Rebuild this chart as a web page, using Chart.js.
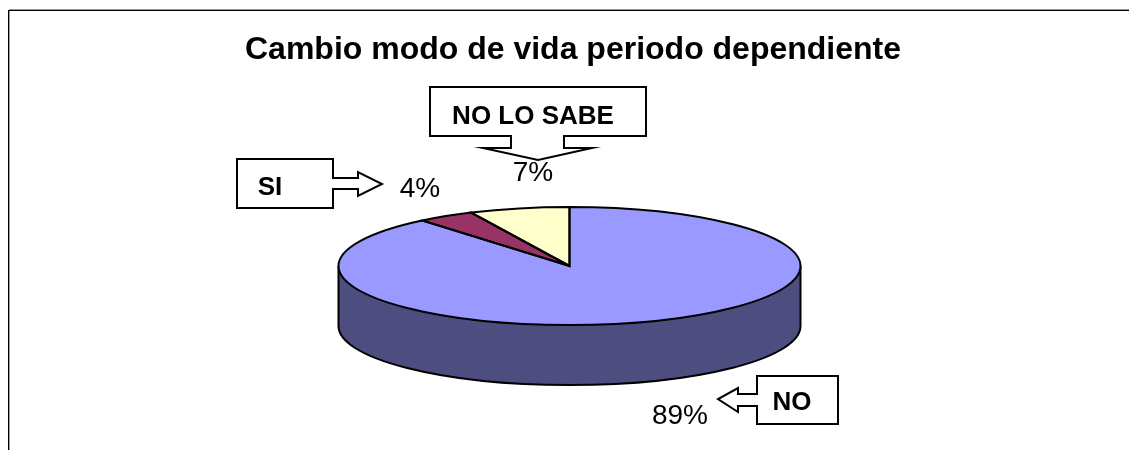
<!DOCTYPE html>
<html><head><meta charset="utf-8">
<style>html,body{margin:0;padding:0;background:#fff}#w{position:relative;width:1129px;height:450px}canvas{display:block}</style>
<script src="https://cdn.jsdelivr.net/npm/chart.js@4"></script>
</head><body><div id="w"><canvas id="c" width="1129" height="450"></canvas></div>
<script>
const titleText = 'Cambio modo de vida periodo dependiente';
const categories = ['NO', 'SI', 'NO LO SABE'];
const values = [89, 4, 7];
const colors = ['#9999FF', '#993366', '#FFFFCC'];
const sideColors = ['#4D4D80', '#4D1A33', '#808066'];

const RX = 231, RY = 59, DEPTH = 60;
const INK = '#000', LW = 2;

function ellipse(ctx, x, y, a0, a1, ccw) { ctx.ellipse(x, y, RX, RY, 0, a0, a1, !!ccw); }
function poly(ctx, pts) {
  ctx.beginPath(); pts.forEach((p, i) => i ? ctx.lineTo(p[0], p[1]) : ctx.moveTo(p[0], p[1]));
  ctx.closePath(); ctx.fillStyle = '#fff'; ctx.fill(); ctx.strokeStyle = INK; ctx.lineWidth = LW; ctx.lineJoin = 'miter'; ctx.stroke();
}
function label(ctx, t, x, y, font) {
  ctx.font = font; ctx.fillStyle = '#000'; ctx.textAlign = 'center'; ctx.textBaseline = 'middle'; ctx.fillText(t, x, y);
}
const pie3d = {
  id: 'pie3d',
  beforeDatasetDraw(chart) {
    const ctx = chart.ctx, arcs = chart.getDatasetMeta(0).data, c = arcs[0];
    const tau = Math.PI * 2;
    ctx.save();
    arcs.forEach((a, i) => {
      for (const k of [-1, 0, 1]) {
        const s = Math.max(a.startAngle + k * tau, 0), e = Math.min(a.endAngle + k * tau, Math.PI);
        if (e <= s) continue;
        ctx.beginPath();
        ellipse(ctx, c.x, c.y, s, e);
        ellipse(ctx, c.x, c.y + DEPTH, e, s, true);
        ctx.closePath();
        ctx.fillStyle = sideColors[i]; ctx.fill();
      }
    });
    ctx.strokeStyle = INK; ctx.lineWidth = LW;
    ctx.beginPath();
    ctx.moveTo(c.x - RX, c.y); ctx.lineTo(c.x - RX, c.y + DEPTH);
    ellipse(ctx, c.x, c.y + DEPTH, Math.PI, 0, true);
    ctx.lineTo(c.x + RX, c.y);
    ctx.stroke();
    ctx.restore();
    ctx.save();
    const r = c.outerRadius;
    ctx.translate(c.x, c.y); ctx.scale(RX / r, RY / r); ctx.translate(-c.x, -c.y);
  },
  afterDatasetDraw(chart) {
    const ctx = chart.ctx, arcs = chart.getDatasetMeta(0).data;
    ctx.restore();
    ctx.save();
    ctx.strokeStyle = INK; ctx.lineWidth = LW; ctx.lineJoin = 'miter';
    arcs.forEach(a => {
      ctx.beginPath();
      ctx.moveTo(a.x, a.y);
      ctx.lineTo(a.x + RX * Math.cos(a.startAngle), a.y + RY * Math.sin(a.startAngle));
      ellipse(ctx, a.x, a.y, a.startAngle, a.endAngle);
      ctx.closePath();
      ctx.stroke();
    });
    ctx.restore();
  },
  afterDraw(chart) {
    const ctx = chart.ctx;
    ctx.save();
    // chart frame: top and left edges only, soft inner/outer shade as in the reference
    ctx.fillStyle = '#999'; ctx.fillRect(9, 9, 1120, 1); ctx.fillRect(9, 9, 1, 441);
    ctx.fillStyle = '#000'; ctx.fillRect(8, 10, 1121, 1); ctx.fillRect(8, 10, 1, 440);
    // callouts
    poly(ctx, [[430,87],[646,87],[646,136],[564,136],[564,148],[592,148],[538,160],[483,148],[511,148],[511,136],[430,136]]);
    poly(ctx, [[237,159],[333,159],[333,178],[358,178],[358,172],[382,184],[358,196],[358,189],[333,189],[333,208],[237,208]]);
    poly(ctx, [[838,376],[838,424],[757,424],[757,406],[738,406],[738,412],[718,399],[738,388],[738,394],[757,394],[757,376]]);
    const bold = 'bold 26px "Liberation Sans", Arial, sans-serif';
    label(ctx, categories[2], 533, 117, bold);
    label(ctx, categories[1], 270, 188, bold);
    label(ctx, categories[0], 792, 403, bold);
    const reg = '28px "Liberation Sans", Arial, sans-serif';
    label(ctx, values[2] + '%', 533, 173, reg);
    label(ctx, values[1] + '%', 420, 189, reg);
    label(ctx, values[0] + '%', 680, 416, reg);
    ctx.restore();
  }
};
new Chart(document.getElementById('c'), {
  type: 'pie',
  data: { labels: categories, datasets: [{ data: values, backgroundColor: colors, borderWidth: 0 }] },
  options: {
    responsive: false, animation: false,
    layout: { padding: { left: 10, right: 0, top: 126, bottom: 44 } },
    plugins: {
      legend: { display: false }, tooltip: { enabled: false },
      title: { display: false, text: titleText }
    }
  },
  plugins: [pie3d, {
    id: 'titleText',
    afterDraw(chart) { label(chart.ctx, titleText, 573, 50, 'bold 32px "Liberation Sans", Arial, sans-serif'); }
  }]
});
</script></body></html>
